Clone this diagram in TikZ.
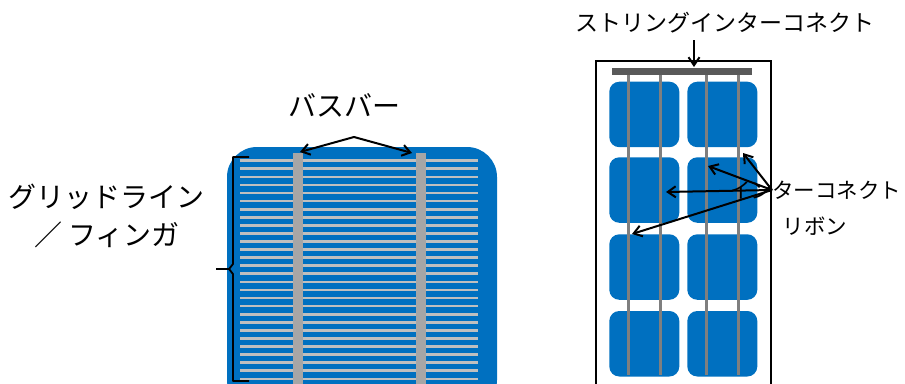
\documentclass[tikz,border=0pt]{standalone}
\usepackage{fontspec}
\newfontfamily\jpfont{Noto Sans CJK JP}
\usetikzlibrary{arrows.meta}
\definecolor{cellblue}{HTML}{0070C0}
\definecolor{fingergray}{HTML}{BFBFBF}
\definecolor{busgray}{HTML}{A6A6A6}
\definecolor{ribbongray}{HTML}{7F7F7F}
\definecolor{bargray}{HTML}{595959}

\begin{document}
\begin{tikzpicture}[x=1pt,y=-1pt,
  biglabel/.style={font=\jpfont\fontsize{28}{38}\selectfont, align=center, inner sep=0pt},
  toplabel/.style={font=\jpfont\fontsize{23}{36}\selectfont, align=center, inner sep=0pt},
  sidelabel/.style={font=\jpfont\fontsize{21.5}{36}\selectfont, align=center, inner sep=0pt},
  pointer/.style={line width=2pt, -{Straight Barb[length=8pt,width=11pt]}},
  finger/.style={fingergray, line width=2.7pt},
  ribbon/.style={ribbongray, line width=3pt},
  pvcell/.style={fill=cellblue, rounded corners=10pt}]
\useasboundingbox (0,0) rectangle (905,383);

\begin{scope}
  \clip (0,0) rectangle (905,383);
  % single solar cell with finger grid and two bus bars
  \fill[cellblue, rounded corners=30pt] (227,147) rectangle (497,410);
  \foreach \i in {0,...,27}
    \draw[finger] (240,{160.7+8.08*\i}) -- (478,{160.7+8.08*\i});
  \fill[busgray] (293.3,153.3) rectangle (303.3,400);
  \fill[busgray] (416,153.3) rectangle (426,400);

  % brace grouping the finger lines
  \draw[line width=1.8pt, line join=round]
    (249,157) -- (233,157) -- (233,264) -- (229,269) -- (233,274) -- (233,381) -- (249,381)
    (229,269) -- (216,269);

  % module: frame, cells, ribbons, string interconnect
  \draw[line width=2pt] (596,61) rectangle (771,410);
  \foreach \cx in {609.3,687.3}
    \foreach \cy in {81.7,157.3,234.3,311}
      \path[pvcell] (\cx,\cy) rectangle ++(70,65.5);
  \foreach \rx in {628.3,660.7,706,738.3}
    \draw[ribbon] (\rx,72) -- (\rx,375);
  \fill[bargray] (611.7,68.3) rectangle (751.7,75);
\end{scope}

% labels
\node[biglabel] (busbar) at (344.5,105) {バスバー};
\node[biglabel] (grid) at (107,216) {グリッドライン\\／ フィンガ};
\node[toplabel] (string) at (724.5,23) {ストリングインターコネクト};
\node[sidelabel] (ribbonlbl) at (815,208) {インターコネクト\\リボン};

% pointers
\coordinate (bbj) at (354,137);
\coordinate (bus1) at (300,152);
\coordinate (bus2) at (412,153);
\draw[pointer] (bbj) -- (bus1);
\draw[pointer] (bbj) -- (bus2);

\coordinate (stj) at (694,40);
\coordinate (bar) at (694,67);
\draw[pointer] (stj) -- (bar);

\coordinate (icj) at (772,190);
\coordinate (rb1) at (708,166);
\coordinate (rb2) at (743,153);
\coordinate (rb3) at (666,192);
\coordinate (rb4) at (632,234);
\foreach \t in {rb1,rb2,rb3,rb4}
  \draw[pointer] (icj) -- (\t);
\end{tikzpicture}
\end{document}
